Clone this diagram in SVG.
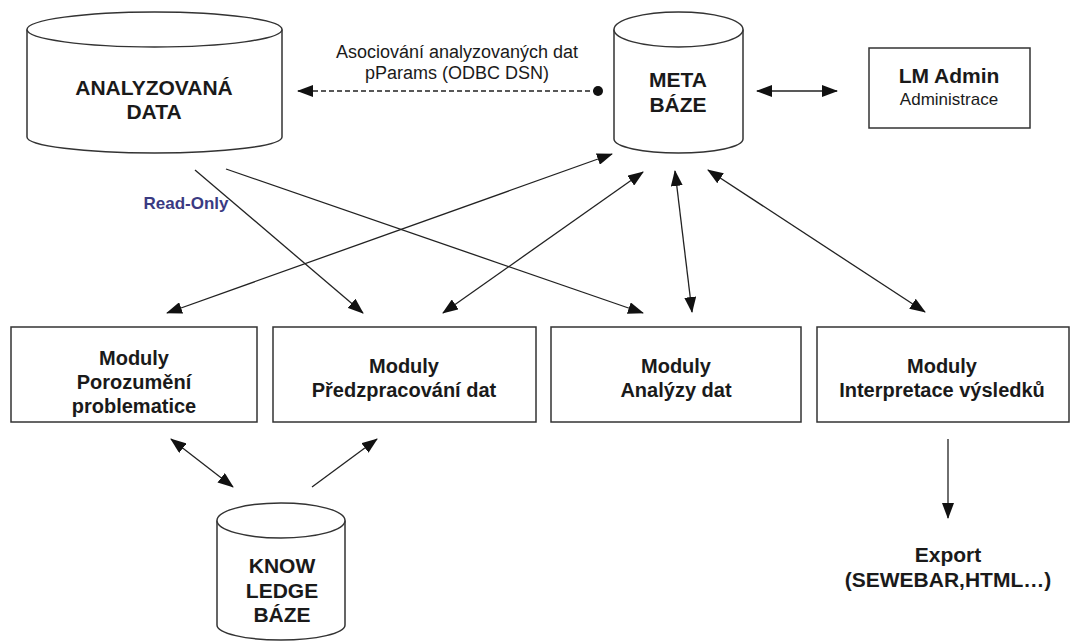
<svg xmlns="http://www.w3.org/2000/svg" width="1072" height="642" viewBox="0 0 1072 642">
  <defs>
    <marker id="arrow" markerUnits="userSpaceOnUse" markerWidth="16" markerHeight="12" refX="15" refY="6" orient="auto-start-reverse">
      <path d="M0,0 L16,6 L0,12 z" fill="#111"/>
    </marker>
    <marker id="dot" markerUnits="userSpaceOnUse" markerWidth="12" markerHeight="12" refX="6" refY="6">
      <circle cx="6" cy="6" r="5" fill="#111"/>
    </marker>
  </defs>
  <style>
    .shape { fill: #fff; stroke: #333; stroke-width: 1.5; }
    .lbl { font-family: "Liberation Sans", Arial, sans-serif; font-weight: bold; font-size: 20px; fill: #1a1a1a; text-anchor: middle; }
    .big { font-size: 21px; }
    .sub { font-family: "Liberation Sans", Arial, sans-serif; font-size: 18px; fill: #1a1a1a; text-anchor: middle; }
    .note { font-family: "Liberation Sans", Arial, sans-serif; font-weight: bold; font-size: 17px; fill: #3a3a82; text-anchor: middle; }
    .link { fill: none; stroke: #222; stroke-width: 1.3; }
    .dash { stroke-dasharray: 5 3; stroke-width: 1.5; }
  </style>
  <rect width="1072" height="642" fill="#fff"/>

  <!-- analysed data store -->
  <g id="analyzovana-data">
    <path class="shape" d="M27,29.5 L27,137 A127.5,16 0 0 0 282,137 L282,29.5"/>
    <ellipse class="shape" cx="154.5" cy="29.5" rx="127.5" ry="17.5"/>
    <text class="lbl big" x="154" y="95">ANALYZOVANÁ</text>
    <text class="lbl big" x="154" y="119">DATA</text>
  </g>

  <!-- metadata store -->
  <g id="meta-baze">
    <path class="shape" d="M614,29.5 L614,139 A64.5,14 0 0 0 743,139 L743,29.5"/>
    <ellipse class="shape" cx="678.5" cy="29.5" rx="64.5" ry="17.5"/>
    <text class="lbl big" x="678" y="87">META</text>
    <text class="lbl big" x="678" y="112">BÁZE</text>
  </g>

  <g id="lm-admin">
    <rect class="shape" x="869" y="48" width="161" height="80"/>
    <text class="lbl big" x="949" y="83">LM Admin</text>
    <text class="sub" x="949" y="105" style="font-size:17px">Administrace</text>
  </g>

  <g id="moduly-porozumeni">
    <rect class="shape" x="11" y="327" width="246" height="95"/>
    <text class="lbl" x="134" y="365">Moduly</text>
    <text class="lbl" x="134" y="389">Porozumění</text>
    <text class="lbl" x="134" y="413">problematice</text>
  </g>

  <g id="moduly-predzpracovani">
    <rect class="shape" x="273" y="327" width="263" height="95"/>
    <text class="lbl" x="404" y="373">Moduly</text>
    <text class="lbl" x="404" y="397">Předzpracování dat</text>
  </g>

  <g id="moduly-analyzy">
    <rect class="shape" x="551" y="327" width="250" height="95"/>
    <text class="lbl" x="676" y="373">Moduly</text>
    <text class="lbl" x="676" y="397">Analýzy dat</text>
  </g>

  <g id="moduly-interpretace">
    <rect class="shape" x="817" y="327" width="252" height="95"/>
    <text class="lbl" x="942" y="373">Moduly</text>
    <text class="lbl" x="942" y="397">Interpretace výsledků</text>
  </g>

  <!-- knowledge store -->
  <g id="knowledge-baze">
    <path class="shape" d="M217,520.5 L217,625 A64,15 0 0 0 345,625 L345,520.5"/>
    <ellipse class="shape" cx="281" cy="520.5" rx="64" ry="17.5"/>
    <text class="lbl big" x="282" y="573">KNOW</text>
    <text class="lbl big" x="282" y="598">LEDGE</text>
    <text class="lbl big" x="282" y="622">BÁZE</text>
  </g>

  <g id="export">
    <text class="lbl big" x="948" y="562">Export</text>
    <text class="lbl big" x="948" y="587">(SEWEBAR,HTML…)</text>
  </g>

  <g id="connectors">
    <!-- association: metadata -> analysed data -->
    <line class="link dash" x1="598" y1="91" x2="298" y2="91" marker-start="url(#dot)" marker-end="url(#arrow)"/>
    <text class="sub" x="457" y="58">Asociování analyzovaných dat</text>
    <text class="sub" x="457" y="79">pParams (ODBC DSN)</text>

    <line class="link" x1="757" y1="91" x2="837" y2="91" marker-start="url(#arrow)" marker-end="url(#arrow)"/>

    <!-- read-only access to analysed data -->
    <line class="link" x1="195" y1="170" x2="363" y2="313" marker-end="url(#arrow)"/>
    <line class="link" x1="226" y1="169" x2="643" y2="313" marker-end="url(#arrow)"/>
    <text class="note" x="186" y="209">Read-Only</text>

    <!-- modules <-> metadata -->
    <line class="link" x1="612" y1="154" x2="167" y2="313" marker-start="url(#arrow)" marker-end="url(#arrow)"/>
    <line class="link" x1="643" y1="172" x2="443" y2="313" marker-start="url(#arrow)" marker-end="url(#arrow)"/>
    <line class="link" x1="675" y1="171" x2="692" y2="312" marker-start="url(#arrow)" marker-end="url(#arrow)"/>
    <line class="link" x1="708" y1="170" x2="925" y2="312" marker-start="url(#arrow)" marker-end="url(#arrow)"/>

    <!-- knowledge base links -->
    <line class="link" x1="171" y1="439" x2="233" y2="487" marker-start="url(#arrow)" marker-end="url(#arrow)"/>
    <line class="link" x1="312" y1="487" x2="377" y2="439" marker-end="url(#arrow)"/>

    <!-- export -->
    <line class="link" x1="948" y1="439" x2="948" y2="518" marker-end="url(#arrow)"/>
  </g>
</svg>
